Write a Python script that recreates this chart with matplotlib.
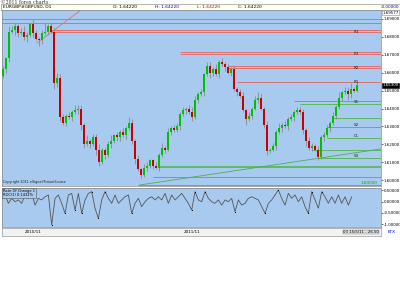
import matplotlib
matplotlib.use('Agg')
import matplotlib.pyplot as plt
import numpy as np

# ---------------- data ----------------
closes = [1.662,1.668,1.683,1.684,1.686,1.682,1.683,1.680,1.681,1.687,
          1.682,1.679,1.678,1.682,1.683,1.686,1.683,1.654,1.657,1.635,
          1.632,1.636,1.635,1.638,1.639,1.640,1.631,1.620,1.622,1.620,
          1.624,1.617,1.610,1.617,1.614,1.620,1.622,1.625,1.624,1.627,
          1.625,1.629,1.632,1.622,1.612,1.606,1.603,1.607,1.608,1.611,
          1.608,1.607,1.614,1.618,1.617,1.627,1.629,1.628,1.630,1.637,
          1.639,1.640,1.638,1.635,1.645,1.648,1.649,1.659,1.664,1.660,
          1.662,1.659,1.666,1.665,1.663,1.660,1.662,1.651,1.649,1.647,
          1.639,1.634,1.636,1.640,1.645,1.646,1.640,1.631,1.616,1.617,
          1.619,1.627,1.629,1.631,1.630,1.634,1.635,1.638,1.639,1.638,
          1.628,1.622,1.618,1.619,1.617,1.613,1.624,1.625,1.629,1.632,
          1.636,1.641,1.646,1.649,1.650,1.648,1.651,1.650,1.653]
first_open = 1.658
wick_hi = [2,1,3,2,2,1,2,3,2,1, 3,2,1,2,5,1,2,2,3,2,
           2,1,2,1,3,2,2,1,3,1, 2,2,3,1,1,2,3,1,2,1,
           2,1,3,2,1,2,1,2,2,1, 1,2,1,3,1,2,1,2,2,1,
           2,1,2,3,2,1,2,1,2,2, 1,3,1,2,1,2,1,2,1,2,
           2,1,2,1,2,3,2,1,2,1, 2,1,3,1,2,1,2,1,2,2,
           2,1,2,2,1,2,1,2,2,1, 2,1,3,1,2,2,3,1,2]
wick_lo = [1,2,2,1,3,2,1,2,3,1, 2,1,3,2,1,2,1,3,2,2,
           1,2,1,2,1,2,3,2,1,2, 1,3,2,1,2,1,2,1,2,2,
           1,2,1,2,3,1,2,1,2,1, 2,1,2,1,2,1,2,1,1,2,
           1,2,1,2,1,2,1,2,1,3, 2,1,2,1,2,1,2,1,2,1,
           1,3,1,2,1,2,1,2,2,1, 1,2,1,2,1,2,1,2,1,1,
           2,3,1,2,1,2,1,2,1,2, 1,2,1,2,1,3,2,1,1]

roc = [0.07,0.29,-0.08,0.14,-0.01,0.07,-0.08,0.29,0.14,0.36,
       -0.16,0.14,0.07,0.21,0.29,-1.04,0.14,0.29,-0.08,-0.53,
       0.29,0.36,-0.38,0.36,-0.53,0.07,0.36,0.44,-0.30,-0.75,
       0.07,0.44,0.14,-0.08,0.29,-0.08,0.07,0.21,0.29,-0.53,
       -0.08,0.14,-0.23,-0.01,0.14,0.21,0.07,0.21,0.07,0.36,
       -0.08,0.29,0.07,0.21,0.36,0.14,-0.08,-0.38,0.44,0.07,
       -0.01,0.44,0.14,-0.01,-0.08,0.07,-0.16,0.07,-0.01,0.14,
       -0.45,0.07,-0.16,-0.08,0.14,0.21,0.14,0.07,-0.23,-0.53,
       -0.08,0.07,0.29,0.51,0.14,-0.16,0.36,0.14,0.29,-0.01,
       0.21,-0.23,-0.53,0.44,0.07,-0.30,0.44,0.21,-0.08,0.21,
       -0.08,0.29,-0.08,0.21,-0.16,0.21]

price_ticks = [1.60,1.61,1.62,1.63,1.64,1.65,1.66,1.67,1.68,1.69]
roc_ticks = [0.5, 0.0, -0.5, -1.0]
red_levels = [1.6898, 1.6876, 1.6839, 1.6826, 1.6716, 1.6707, 1.6640, 1.6629, 1.6548]
red_starts = [-1, -1, 16, 16, 59, 59, 75, 75, 78]
red_labels = {1.6826: 'R3', 1.6707: 'R3', 1.6629: 'R2', 1.6548: 'R1'}
green_levels = [1.6444, 1.6425, 1.6347, 1.6297, 1.6235, 1.6168, 1.6123, 1.6073, 1.6017, 1.5973]
green_starts = [97, 99, 110, 108, 108, 103, 105, 52, 50, 45]
green_labels = {1.6425: 'S1', 1.6297: 'S2', 1.6235: 'CL', 1.6123: 'S3'}
date_labels = ['2010/11', '2011/11']
date_pos = [10, 63]

# ---------------- figure ----------------
W, H = 400, 283
fig = plt.figure(figsize=(4, 2.83), dpi=100)
fig.patch.set_facecolor('white')
plt.rcParams['font.family'] = ['DejaVu Sans']

def ax_px(x0, y0, x1, y1):
    return fig.add_axes([x0 / W, 1 - y1 / H, (x1 - x0) / W, (y1 - y0) / H])

BG = '#A9CAEF'
px2i = lambda px: (px - 3) / 3.0
XL = (px2i(2), px2i(381))
TFS = 2.9

# header
axh = ax_px(1, 3.5, 400, 10)
axh.set_facecolor('#FFFFF0')
axh.set_xticks([]); axh.set_yticks([])
for s in axh.spines.values():
    s.set_color('#999999'); s.set_linewidth(0.5)
axh.text(0.005, 0.5, 'EURGBP#GBPUSD, D1', fontsize=3.2, va='center', transform=axh.transAxes)
axh.text(0.28, 0.5, 'O: 1.64220', fontsize=3.2, va='center', color='black', transform=axh.transAxes)
axh.text(0.385, 0.5, 'H: 1.64220', fontsize=3.2, va='center', color='#0000CC', transform=axh.transAxes)
axh.text(0.49, 0.5, 'L: 1.64220', fontsize=3.2, va='center', color='#CC0000', transform=axh.transAxes)
axh.text(0.595, 0.5, 'C: 1.64220', fontsize=3.2, va='center', color='black', transform=axh.transAxes)
axh.text(0.997, 0.5, '-0.00000', fontsize=3.0, va='center', ha='right', color='#0000CC', transform=axh.transAxes)

fig.text(0.003, 0.999, '\u00a92011 forex charts', fontsize=3.3, va='top', ha='left',
         family='DejaVu Serif', color='#333333', zorder=10)

# main panel
ax = ax_px(2, 10, 381, 186)
ax.set_facecolor(BG)
ymin = 1.69 - (186 - 19) / 1790
ymax = 1.69 + (19 - 10) / 1790
ax.set_ylim(ymin, ymax)
ax.set_xlim(*XL)

n = len(closes)
opens = [first_open] + closes[:-1]
xs = np.arange(n)
for i in range(n):
    o, c = opens[i], closes[i]
    hi = max(o, c) + wick_hi[i] * 0.001
    lo = min(o, c) - wick_lo[i] * 0.001
    ax.vlines(xs[i], lo, hi, color='#8a8a8a', lw=0.6, zorder=2)
    col = '#00C000' if c >= o else '#C80000'
    h = c - o if abs(c - o) > 0.0004 else 0.0004
    ax.bar(xs[i], h, bottom=o, width=0.75, color=col, zorder=3, linewidth=0)

for lv, st in zip(red_levels, red_starts):
    ax.hlines(lv, st, XL[1], color='#E07070', lw=0.7, zorder=1)
    if lv in red_labels:
        ax.text(px2i(356), lv, red_labels[lv], fontsize=3, va='center', ha='center', color='#222222')
ax.plot([px2i(37), px2i(82)], [1.6766, 1.6955], color='#E07070', lw=0.6, zorder=1)

for lv, st in zip(green_levels, green_starts):
    lw = 1.3 if lv == 1.6073 else 0.7
    ax.hlines(lv, st, XL[1], color='#5CB85C', lw=lw, zorder=1)
    if lv in green_labels:
        ax.text(px2i(356), lv + 0.0012, green_labels[lv], fontsize=3, va='center', ha='center', color='#222222')
ax.plot([px2i(140), px2i(381)], [1.5973, 1.6174], color='#4CAF50', lw=0.6, zorder=1)
ax.text(px2i(369), 1.5985, '1.60000', fontsize=3, va='center', ha='center', color='#00AA00',
        bbox=dict(boxstyle='square,pad=0.1', fc=BG, ec='none'))
ax.text(0.003, 0.01, 'Copyright 2011 eSignal/FutureSource', fontsize=2.4, transform=ax.transAxes,
        va='bottom', color='#222222')

ax.yaxis.tick_right()
ax.set_yticks(price_ticks)
ax.set_yticklabels(['%.5f' % t for t in price_ticks], fontsize=TFS)
ax.tick_params(axis='y', length=1.2, width=0.4, pad=0.6)
ax.set_xticks([])
for s in ax.spines.values():
    s.set_color('#888888'); s.set_linewidth(0.5)
ax.text(1.004, 0.985, '1.69577', fontsize=TFS, transform=ax.transAxes, va='center', ha='left',
        bbox=dict(boxstyle='square,pad=0.1', fc='white', ec='#888888', lw=0.4))
ax.text(1.004, (closes[-1] - ymin) / (ymax - ymin), '%.5f' % closes[-1], fontsize=TFS,
        transform=ax.transAxes, va='center', ha='left', color='white',
        bbox=dict(boxstyle='square,pad=0.1', fc='black', ec='black', lw=0.4))

# ROC panel
ax2 = ax_px(2, 188, 381, 227)
ax2.set_facecolor(BG)
ax2.set_xlim(*XL)
ax2.set_ylim(-(227 - 201.5) / 22.5, (201.5 - 188) / 22.5)
rx = np.linspace(px2i(1.7), px2i(351.7), len(roc))
ax2.plot(rx, roc, color='#555555', lw=0.6)
r = np.array(roc)
ext = [k for k in range(1, len(r) - 1)
       if (r[k] > r[k-1] and r[k] > r[k+1] and r[k] > 0.4) or (r[k] < r[k-1] and r[k] < r[k+1] and r[k] < -0.35)]
ax2.plot(rx[ext], r[ext], 'o', ms=0.8, color='black', mew=0)
ax2.yaxis.tick_right()
ax2.set_yticks(roc_ticks)
ax2.set_yticklabels(['%.5f' % t for t in roc_ticks], fontsize=TFS)
ax2.tick_params(axis='y', length=1.2, width=0.4, pad=0.6)
ax2.set_xticks([])
for s in ax2.spines.values():
    s.set_color('#888888'); s.set_linewidth(0.5)
ax2.text(0.003, 0.97, 'Rate Of Change 1\nROC(1) 0.1432%', fontsize=2.6, transform=ax2.transAxes,
         va='top', ha='left', linespacing=1.1,
         bbox=dict(boxstyle='square,pad=0.2', fc=BG, ec='#555555', lw=0.4))

# date strip
ax3 = ax_px(2, 228, 381, 236)
ax3.set_facecolor('#F2F2F2')
ax3.set_xlim(*XL)
ax3.set_ylim(0, 1)
ax3.set_xticks([]); ax3.set_yticks([])
for s in ax3.spines.values():
    s.set_color('#999999'); s.set_linewidth(0.5)
for lab, p in zip(date_labels, date_pos):
    ax3.text(p, 0.5, lab, fontsize=3, va='center', ha='center')
ax3.text(0.995, 0.5, '03 15/5/11 - 26.50', fontsize=2.8, transform=ax3.transAxes, va='center', ha='right',
         bbox=dict(boxstyle='square,pad=0.1', fc='#DDDDDD', ec='#888888', lw=0.3))
fig.text(388 / W, 1 - 232 / H, 'ETX', fontsize=3, color='#0000DD', va='center', ha='left')

fig.savefig('out.png', dpi=100)
